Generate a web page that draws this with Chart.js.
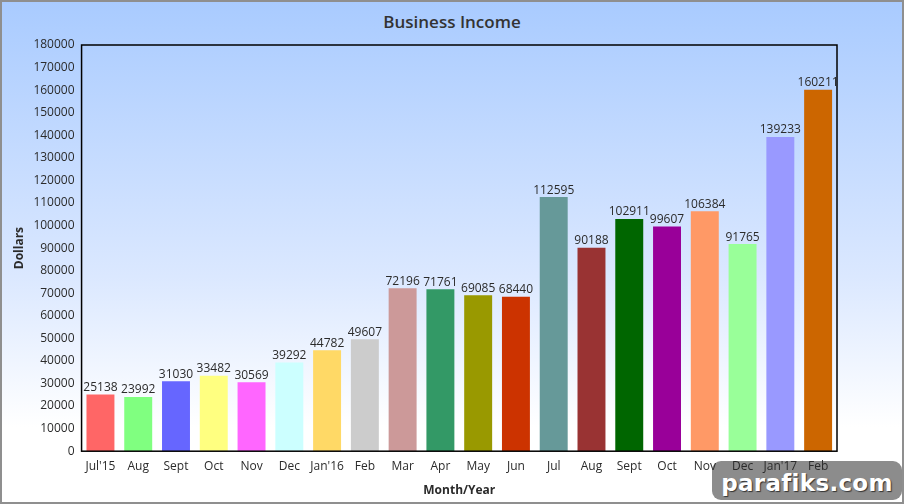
<!DOCTYPE html>
<html>
<head>
<meta charset="utf-8">
<script src="https://cdn.jsdelivr.net/npm/chart.js@4/dist/chart.umd.min.js"></script>
<style>
  html, body { margin: 0; padding: 0; }
  #box {
    position: relative; width: 904px; height: 504px; box-sizing: border-box;
    border: 2px solid #8f8f8f;
    background: linear-gradient(to bottom, #a9cbff 0%, #dbe8ff 55%, #ffffff 85%, #ffffff 100%);
    overflow: hidden;
  }
  #box canvas { position: absolute; left: -2px; top: -2px; }
  #title {
    position: absolute; left: 0; top: 8px; width: 900px; text-align: center;
    font-family: "Open Sans", sans-serif; font-weight: 600; font-size: 17px; color: #333;
  }
  #mark {
    position: absolute; left: 710px; top: 459px; width: 190px; height: 39px;
    background: #8c8c8c; border-radius: 9px;
    font-family: "DejaVu Sans", sans-serif; font-weight: bold; font-size: 23px;
    color: #fff; text-align: center; line-height: 44px; letter-spacing: 0.3px;
    text-shadow: 1px 1px 1px #333;
  }
</style>
</head>
<body>
<div id="box">
  <div id="title">Business Income</div>
  <div id="mark">parafiks.com</div>
  <canvas id="chart" width="904" height="504"></canvas>
</div>
<script>
const months = ["Jul'15", "Aug", "Sept", "Oct", "Nov", "Dec", "Jan'16", "Feb", "Mar", "Apr",
                "May", "Jun", "Jul", "Aug", "Sept", "Oct", "Nov", "Dec", "Jan'17", "Feb"];
const income = [25138, 23992, 31030, 33482, 30569, 39292, 44782, 49607, 72196, 71761,
                69085, 68440, 112595, 90188, 102911, 99607, 106384, 91765, 139233, 160211];
const barColors = ['#ff6666', '#80ff80', '#6666ff', '#ffff80', '#ff66ff', '#ccffff', '#ffd966', '#cccccc',
                   '#cc9999', '#339966', '#999900', '#cc3300', '#669999', '#993333', '#006600', '#990099',
                   '#ff9966', '#99ff99', '#9999ff', '#cc6600'];

const FONT = '"Open Sans", "Noto Sans", sans-serif';
const TEXT = '#2b2b2b';

// values above each bar
const valueLabels = {
  id: 'valueLabels',
  afterDatasetsDraw(chart) {
    const ctx = chart.ctx;
    const meta = chart.getDatasetMeta(0);
    ctx.save();
    ctx.font = '12px ' + FONT;
    ctx.fillStyle = TEXT;
    ctx.textAlign = 'center';
    ctx.textBaseline = 'bottom';
    meta.data.forEach((bar, i) => {
      ctx.fillText(String(income[i]), bar.x, bar.y - 1);
    });
    ctx.restore();
  }
};

// black frame round the plot area
const plotFrame = {
  id: 'plotFrame',
  afterDraw(chart) {
    const a = chart.chartArea;
    const ctx = chart.ctx;
    ctx.save();
    ctx.strokeStyle = '#000';
    ctx.lineWidth = 1.5;
    ctx.strokeRect(a.left, a.top, a.right - a.left, a.bottom - a.top);
    ctx.restore();
  }
};

new Chart(document.getElementById('chart'), {
  type: 'bar',
  data: {
    labels: months,
    datasets: [{
      label: 'Business Income',
      data: income,
      backgroundColor: barColors,
      borderWidth: 0,
      categoryPercentage: 0.74,
      barPercentage: 1.0
    }]
  },
  options: {
    responsive: false,
    animation: false,
    layout: { padding: { left: 12, right: 67, top: 45, bottom: 6 } },
    plugins: {
      legend: { display: false },
      tooltip: { enabled: false },
      title: { display: false }
    },
    scales: {
      x: {
        grid: { display: false, drawTicks: false },
        border: { display: false },
        ticks: { color: TEXT, font: { family: FONT, size: 12 }, padding: 8, autoSkip: false, maxRotation: 0 },
        title: { display: true, text: 'Month/Year', color: TEXT, font: { family: FONT, size: 12, weight: 'bold' }, padding: { top: 2, bottom: 0 } }
      },
      y: {
        min: 0, max: 180000,
        grid: { display: false, drawTicks: false },
        border: { display: false },
        ticks: { stepSize: 10000, color: TEXT, font: { family: FONT, size: 12 }, padding: 7,
                 callback: v => String(v) },
        title: { display: true, text: 'Dollars', color: TEXT, font: { family: FONT, size: 12, weight: 'bold' }, padding: { top: 0, bottom: 0 } }
      }
    }
  },
  plugins: [valueLabels, plotFrame]
});
</script>
</body>
</html>
